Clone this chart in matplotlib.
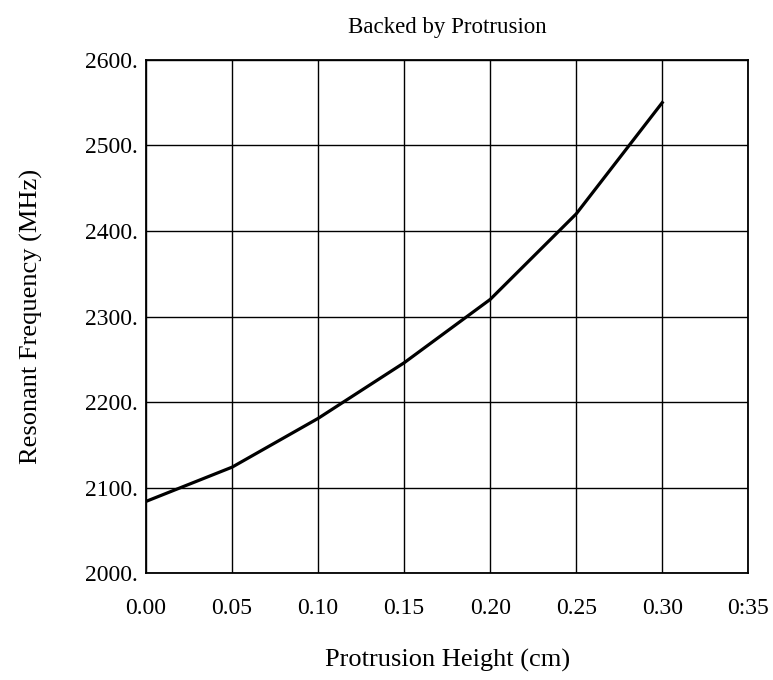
import matplotlib
matplotlib.use("Agg")
import matplotlib.pyplot as plt

# protrusion height (cm) vs resonant frequency (MHz)
height = [0.00, 0.05, 0.10, 0.15, 0.20, 0.25, 0.30]
freq = [2084, 2124, 2181, 2246, 2320, 2420, 2550]

xticks = [0.00, 0.05, 0.10, 0.15, 0.20, 0.25, 0.30, 0.35]
xticklabels = ["0.00", "0.05", "0.10", "0.15", "0.20", "0.25", "0.30", "0:35"]
yticks = [2000, 2100, 2200, 2300, 2400, 2500, 2600]
yticklabels = ["2000.", "2100.", "2200.", "2300.", "2400.", "2500.", "2600."]

plt.rcParams['font.family'] = ['Liberation Serif', 'DejaVu Serif']

fig = plt.figure(figsize=(7.73, 6.8), dpi=100)
ax = fig.add_axes([0.189, 0.157, 0.779, 0.755])

ax.plot(height, freq, color='black', linewidth=2.3)

ax.set_xlim(0, 0.35)
ax.set_ylim(2000, 2600)
ax.set_xticks(xticks)
ax.set_xticklabels(xticklabels)
ax.set_yticks(yticks)
ax.set_yticklabels(yticklabels)
ax.tick_params(length=0, labelsize=17)
ax.tick_params(axis='x', pad=18)
ax.tick_params(axis='y', pad=6)

ax.grid(True, color='black', linewidth=1.0)
for s in ax.spines.values():
    s.set_linewidth(1.3)

ax.set_xlabel("Protrusion Height (cm)", fontsize=19, labelpad=21)
ax.set_ylabel("Resonant Frequency (MHz)", fontsize=19, labelpad=30)
ax.set_title("Backed by Protrusion", fontsize=16.5, pad=19)

fig.savefig("out.png", dpi=100)
